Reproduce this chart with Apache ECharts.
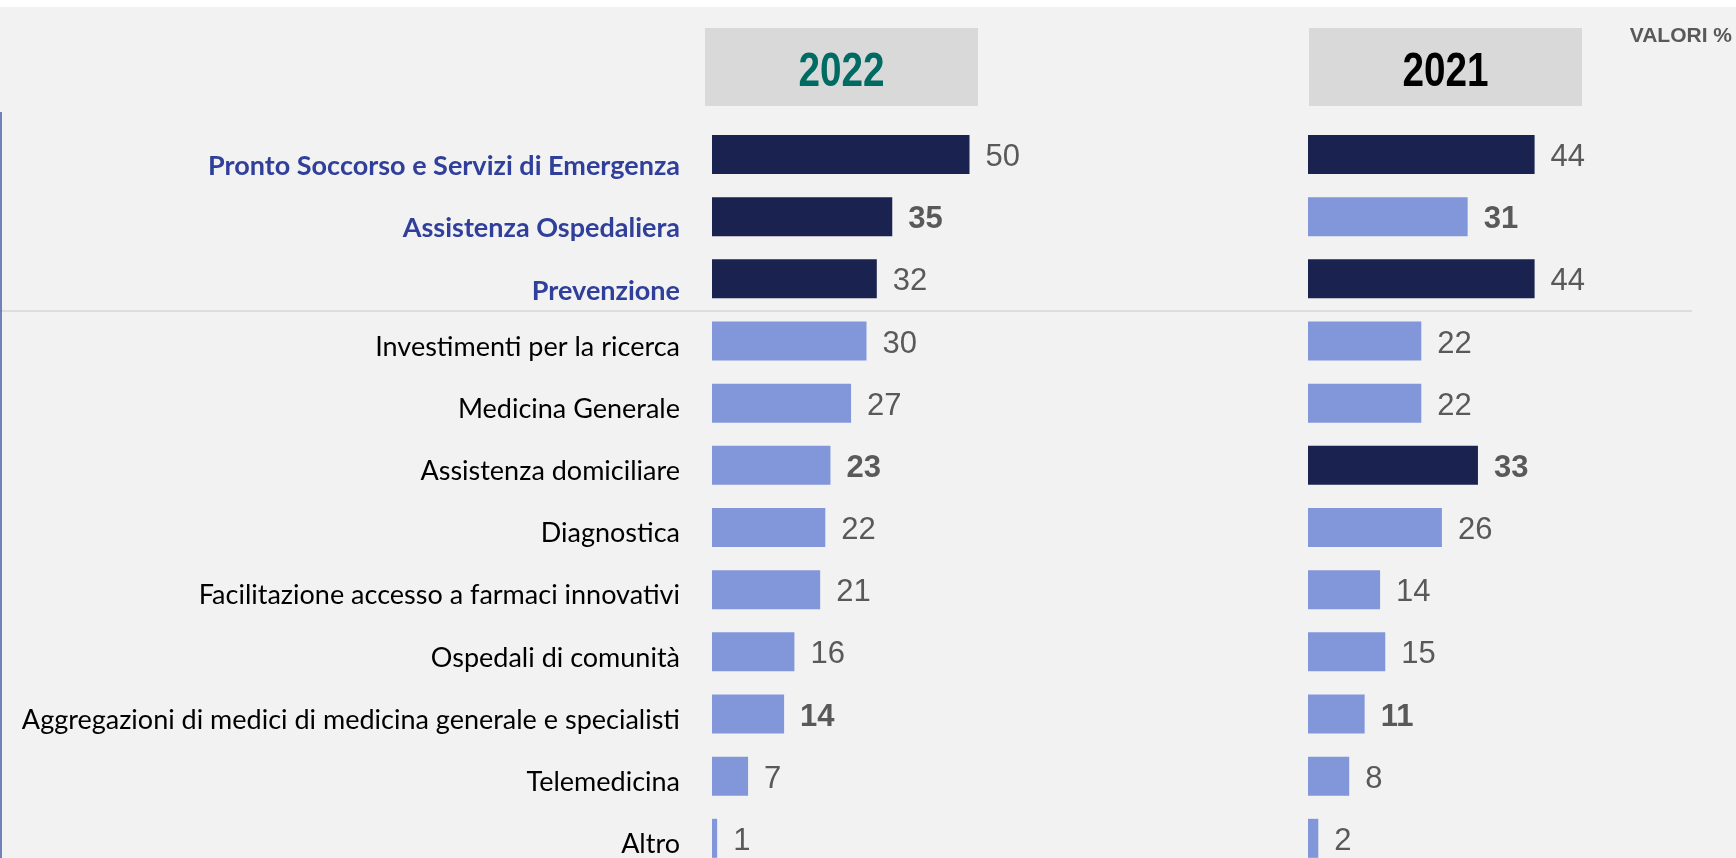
<!DOCTYPE html>
<html>
<head>
<meta charset="utf-8">
<script src="https://cdn.jsdelivr.net/npm/echarts@6/dist/echarts.min.js"></script>
<style>
  html, body { margin: 0; background: #fff; }
  #chart { width: 1736px; height: 858px; background: linear-gradient(#fff 0, #fff 7px, #f2f2f2 7px); }
</style>
</head>
<body>
<div id="chart"></div>
<script>
const categories = [
  'Pronto Soccorso e Servizi di Emergenza',
  'Assistenza Ospedaliera',
  'Prevenzione',
  'Investimenti per la ricerca',
  'Medicina Generale',
  'Assistenza domiciliare',
  'Diagnostica',
  'Facilitazione accesso a farmaci innovativi',
  'Ospedali di comunità',
  'Aggregazioni di medici di medicina generale e specialisti',
  'Telemedicina',
  'Altro'
];
const years = ['2022', '2021'];
const values2022 = [50, 35, 32, 30, 27, 23, 22, 21, 16, 14, 7, 1];
const values2021 = [44, 31, 44, 22, 22, 33, 26, 14, 15, 11, 8, 2];
// top 3 of each year (dark bars)
const top2022 = [1, 1, 1, 0, 0, 0, 0, 0, 0, 0, 0, 0];
const top2021 = [1, 0, 1, 0, 0, 1, 0, 0, 0, 0, 0, 0];
// categories in blue bold, values in bold
const highlightedCats = [1, 1, 1, 0, 0, 0, 0, 0, 0, 0, 0, 0];
const boldValues = [0, 1, 0, 0, 0, 1, 0, 0, 0, 1, 0, 0];

const DARK = '#1a2350';
const LIGHT = '#8296da';
const SANS = '"Liberation Sans", Arial, sans-serif';

const chart = echarts.init(document.getElementById('chart'));

const toData = (vals, tops) => vals.map((v, i) => ({
  value: v,
  itemStyle: { color: tops[i] ? DARK : LIGHT },
  label: { fontWeight: boldValues[i] ? 'bold' : 'normal' }
}));

const barSeries = (idx, vals, tops) => ({
  type: 'bar',
  xAxisIndex: idx,
  yAxisIndex: idx,
  barWidth: 39,
  data: toData(vals, tops),
  label: {
    show: true,
    position: 'right',
    distance: 16,
    offset: [0, 3],
    color: '#595959',
    fontFamily: SANS,
    fontSize: 31
  },
  silent: true
});

const grids = [
  { left: 712, top: 123.4, width: 257.5, height: 746, outerBoundsMode: 'none' },
  { left: 1308, top: 123.4, width: 257.5, height: 746, outerBoundsMode: 'none' }
];

const valueAxis = i => ({
  type: 'value', gridIndex: i, min: 0, max: 50, show: false
});

const catAxis = (i, showLabels) => ({
  type: 'category',
  gridIndex: i,
  data: categories,
  inverse: true,
  axisLine: { show: false },
  axisTick: { show: false },
  axisLabel: {
    show: showLabels,
    margin: 32,
    formatter: (v, idx) => (highlightedCats[idx] ? '{hi|' : '{n|') + v + '}',
    rich: {
      hi: { fontFamily: 'Lato', fontWeight: 'bold', fontSize: 27, color: '#2f3f9a', padding: [24, 0, 0, 0] },
      n: { fontFamily: 'Lato', fontSize: 27, color: '#000', padding: [12, 0, 0, 0] }
    }
  }
});

// condensed bold year in a grey box (Arial Narrow look via horizontal scale)
const header = (x, text, color) => ([
  { type: 'rect', left: x, top: 28, shape: { width: 273, height: 78 }, style: { fill: '#d9d9d9' }, silent: true },
  {
    type: 'text', x: x + 136.5, y: 72, scaleX: 0.79,
    style: { text, fill: color, font: 'bold 49px ' + SANS, align: 'center', verticalAlign: 'middle' },
    silent: true
  }
]);

chart.setOption({
  animation: false,
  grid: grids,
  xAxis: [valueAxis(0), valueAxis(1)],
  yAxis: [catAxis(0, true), catAxis(1, false)],
  series: [barSeries(0, values2022, top2022), barSeries(1, values2021, top2021)],
  graphic: [
    ...header(705, years[0], '#006b63'),
    ...header(1309, years[1], '#000'),
    { type: 'text', right: 4, top: 26, style: { text: 'VALORI %', fill: '#595959', font: 'bold 21px ' + SANS }, silent: true },
    { type: 'line', shape: { x1: 0, y1: 311, x2: 1692, y2: 311 }, style: { stroke: '#d6d6d6', lineWidth: 1.5 }, silent: true },
    { type: 'line', shape: { x1: 1, y1: 112, x2: 1, y2: 858 }, style: { stroke: '#4a5aa8', lineWidth: 1.5 }, silent: true }
  ]
});
</script>
</body>
</html>
